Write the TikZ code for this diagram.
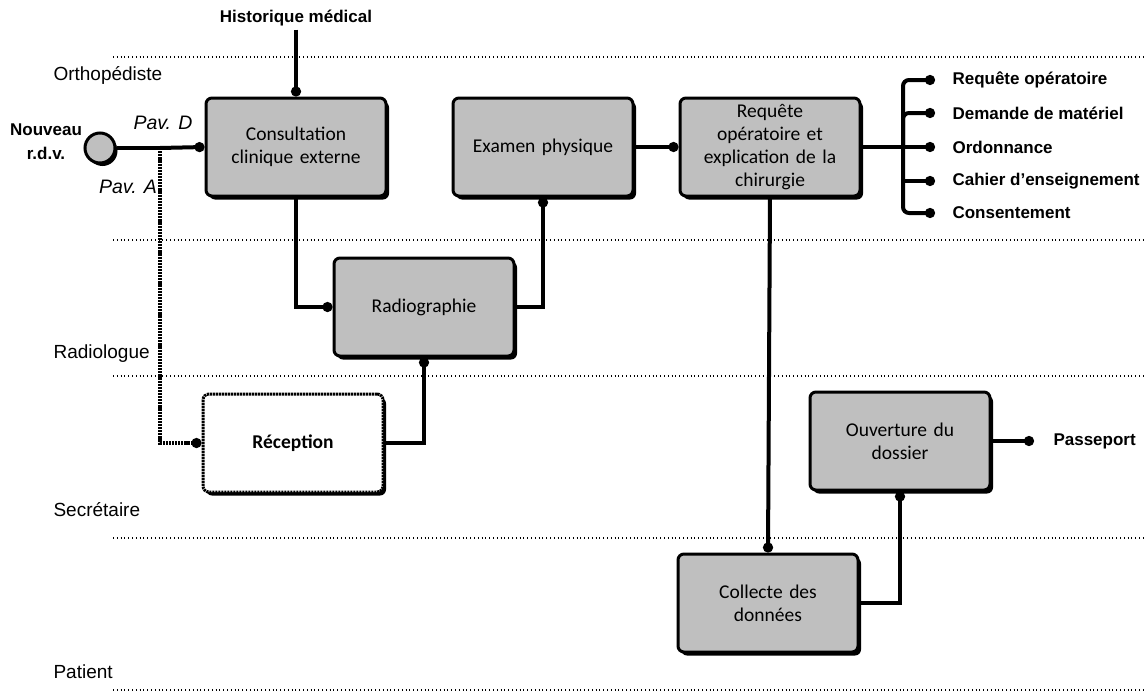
\documentclass[tikz,border=0pt]{standalone}
\usepackage{fontspec}
\setmainfont{Liberation Sans}
\newfontfamily\boxfont{Carlito}
\usetikzlibrary{arrows.meta,shadows}
\definecolor{boxgrey}{RGB}{191,191,191}
\tikzset{
  box/.style={draw, line width=3pt, rounded corners=6pt, fill=boxgrey,
    minimum width=180pt, minimum height=98pt, align=center, text width=170pt,
    font=\boxfont\fontsize{19.5}{23}\selectfont,
    drop shadow={shadow xshift=3pt, shadow yshift=-3.5pt, fill=black, opacity=1}},
  recbox/.style={box, fill=white, dash pattern=on 2.2pt off 0.8pt, font=\boxfont\bfseries\fontsize{19.5}{23}\selectfont},
  conn/.style={line width=4pt, -{Circle[length=10pt,width=10pt]}},
  dconn/.style={conn, dash pattern=on 2.2pt off 0.9pt},
  lane/.style={line width=1.2pt, dash pattern=on 0.8pt off 3pt},
  lanelabel/.style={anchor=west, font=\fontsize{19}{22}\selectfont},
  outlabel/.style={anchor=west, font=\bfseries\fontsize{17}{20}\selectfont},
  pav/.style={font=\itshape\fontsize{19.5}{22}\selectfont}
}
\begin{document}
\begin{tikzpicture}[x=1pt,y=-1pt]
\useasboundingbox (0,0) rectangle (1146,696);
% lanes
\foreach \yy in {57,240,376,538,690} \draw[lane] (113,\yy) -- (1146,\yy);
\node[lanelabel] (l1) at (50,75) {Orthopédiste};
\node[lanelabel] (l2) at (50,354) {Radiologue};
\node[lanelabel] (l3) at (50,510) {Secrétaire};
\node[lanelabel] (l4) at (50,672) {Patient};
% boxes
\node[box] (cons) at (296,147) {Consultation\\clinique externe};
\node[box] (exam) at (543,147) {Examen physique};
\node[box] (req) at (770,147) {Requête\\opératoire et\\explication de la\\chirurgie};
\node[box] (radio) at (424,307) {Radiographie};
\node[recbox] (rec) at (293,443) {Réception};
\node[box] (ouv) at (900,441) {Ouverture du\\dossier};
\node[box] (coll) at (768,603) {Collecte des\\données};
% start
\node[circle, draw, line width=3pt, fill=boxgrey, minimum size=30pt, inner sep=0pt,
  drop shadow={shadow xshift=2.5pt, shadow yshift=-3pt, fill=black, opacity=1}] (nv) at (100,148) {};
\node[font=\bfseries\fontsize{17}{24}\selectfont, align=center] (nvl) at (46,142) {Nouveau\\r.d.v.};
\node[pav] (pd) at (163,123) {Pav. D};
\node[pav] (pa) at (128,187) {Pav. A};
\coordinate (j) at (160,148);
\coordinate (jd) at (160,443);
\draw[line width=4pt] (nv.east) -- (j);
\draw[conn] (j) -- (cons.west);
\draw[dconn] (j) -- (jd) -- (rec.west);
% historique
\node[font=\bfseries\fontsize{17}{20}\selectfont] (hist) at (296,18) {Historique médical};
\draw[conn] (hist.south) -- (cons.north);
% flows
\draw[conn] (cons.south) |- (radio.west);
\draw[conn] (radio.east) -| (exam.south);
\draw[conn] (exam.east) -- (req.west);
\draw[conn] (rec.east) -| (radio.south);
\draw[conn] (req.south) -- (coll.north);
\draw[conn] (coll.east) -| (ouv.south);
\node[outlabel] (pass) at (1050,441) {Passeport};
\draw[conn] (ouv.east) -- ([xshift=-16pt]pass.west);
% outputs
\coordinate (br) at (903,147);
\draw[line width=4pt] (req.east) -- (br);
\node[outlabel] (o1) at (949,80) {Requête opératoire};
\node[outlabel] (o2) at (949,113) {Demande de matériel};
\node[outlabel] (o3) at (949,147) {Ordonnance};
\node[outlabel] (o4) at (949,181) {Cahier d'enseignement};
\node[outlabel] (o5) at (949,213) {Consentement};
\foreach \o in {o1,o2,o5} \draw[conn, rounded corners=6pt] (br) |- ([xshift=-14pt]\o.west);
\foreach \o in {o3,o4} \draw[conn] (br) |- ([xshift=-14pt]\o.west);
\end{tikzpicture}
\end{document}
